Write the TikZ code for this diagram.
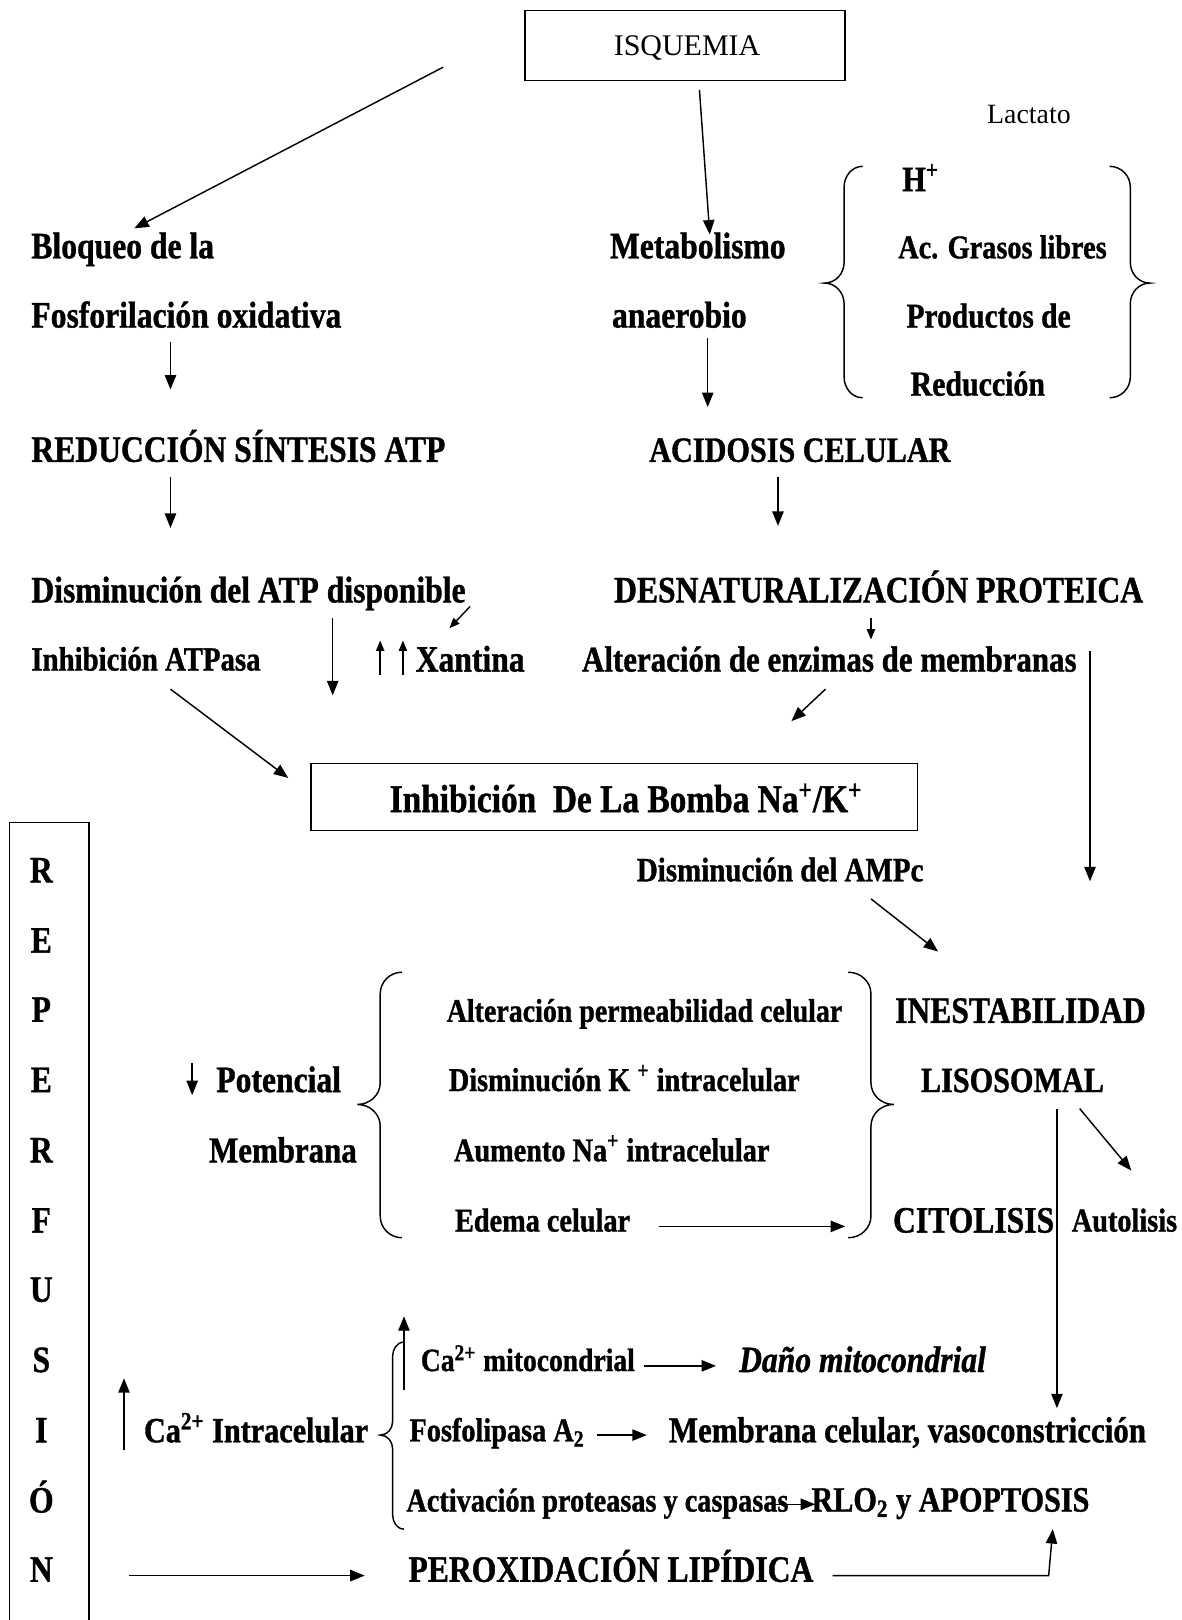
\documentclass[tikz,border=0pt]{standalone}
\usepackage{fontspec}
\setmainfont{Liberation Serif}
\newfontfamily\tbf{Liberation Serif}[FakeStretch=0.85, BoldFeatures={FakeBold=1.0}, BoldItalicFeatures={FakeBold=1.0}]
\usetikzlibrary{arrows.meta}
\begin{document}
\begin{tikzpicture}[x=0.5pt,y=-0.5pt,
  big/.style={font=\tbf\bfseries\fontsize{18}{20}\selectfont, anchor=base west, inner sep=0pt},
  mid/.style={font=\tbf\bfseries\fontsize{17.2}{19}\selectfont, anchor=base west, inner sep=0pt},
  sml/.style={font=\tbf\bfseries\fontsize{16.1}{18}\selectfont, anchor=base west, inner sep=0pt},
  reg/.style={font=\fontsize{13.5}{16}\selectfont, anchor=base west, inner sep=0pt},
  letter/.style={font=\tbf\bfseries\fontsize{18}{20}\selectfont, anchor=base, inner sep=0pt},
  arr/.style={-{Triangle[length=7pt,width=5.5pt]}, line width=0.7pt},
  arrs/.style={-{Triangle[length=5pt,width=4pt]}, line width=0.7pt},
  ln/.style={line width=0.7pt},
  box/.style={draw, line width=0.8pt, inner sep=0pt}]
\useasboundingbox (0,0) rectangle (1144,1568);

% boxes
\node[box, minimum width=155pt, minimum height=34pt] (isq) at (663,44) {};
\node[font=\fontsize{14.5}{16}\selectfont, anchor=base, inner sep=0pt] (isqt) at (665,54) {ISQUEMIA};
\node[box, minimum width=293.5pt, minimum height=32.5pt] (bomba) at (594.5,771.5) {};
\node[font=\tbf\bfseries\fontsize{19}{21}\selectfont, anchor=base, inner sep=0pt] (bombat) at (606,786) {Inhibición\ \ De La Bomba Na\textsuperscript{+}/K\textsuperscript{+}};

% texts
\node[reg] (lact) at (955,120) {Lactato};
\node[big] (bloq) at (30,250) {Bloqueo de la};
\node[big] (fosf) at (30,317) {Fosforilación oxidativa};
\node[big] (meta) at (590,250) {Metabolismo};
\node[big] (anae) at (592,317) {anaerobio};
\node[mid] (hplus) at (873,185) {H\textsuperscript{+}};
\node[mid, font=\tbf\bfseries\fontsize{16.1}{19}\selectfont] (acgr) at (869,250) {Ac. Grasos libres};
\node[mid, font=\tbf\bfseries\fontsize{16.8}{19}\selectfont] (prod) at (877,317) {Productos de};
\node[mid, font=\tbf\bfseries\fontsize{17}{19}\selectfont] (redu) at (881,383) {Reducción};
\node[big] (redatp) at (30,447) {REDUCCIÓN SÍNTESIS ATP};
\node[mid] (acid) at (628,447) {ACIDOSIS CELULAR};
\node[big] (dism) at (30,583) {Disminución del ATP disponible};
\node[big] (desn) at (594,583) {DESNATURALIZACIÓN PROTEICA};
\node[sml, font=\tbf\bfseries\fontsize{16.4}{18}\selectfont] (inhatp) at (30,649) {Inhibición ATPasa};
\node[big] (xant) at (402,650) {Xantina};
\node[mid, font=\tbf\bfseries\fontsize{17.6}{19}\selectfont] (alter) at (563,650) {Alteración de enzimas de membranas};
\node[sml, font=\tbf\bfseries\fontsize{16.5}{18}\selectfont] (ampc) at (616,853) {Disminución del AMPc};
\node[big] (potenc) at (209,1057) {Potencial};
\node[mid, font=\tbf\bfseries\fontsize{17.6}{19}\selectfont] (membr) at (202,1125) {Membrana};
\node[sml, font=\tbf\bfseries\fontsize{15.9}{18}\selectfont] (perm) at (432,989) {Alteración permeabilidad celular};
\node[sml] (dimk) at (434,1056) {Disminución K \textsuperscript{+} intracelular};
\node[sml] (aumna) at (439,1124) {Aumento Na\textsuperscript{+} intracelular};
\node[sml] (edema) at (440,1192) {Edema celular};
\node[big] (inest) at (866,990) {INESTABILIDAD};
\node[mid] (lisos) at (891,1057) {LISOSOMAL};
\node[big] (citol) at (864,1193) {CITOLISIS};
\node[sml] (autol) at (1037,1192) {Autolisis};
\node[mid] (caint) at (139,1396) {Ca\textsuperscript{2+} Intracelular};
\node[sml, font=\tbf\bfseries\fontsize{15.7}{18}\selectfont] (camito) at (407,1327) {Ca\textsuperscript{2+} mitocondrial};
\node[big, font=\tbf\bfseries\itshape\fontsize{18}{20}\selectfont] (dano) at (715,1328) {Daño mitocondrial};
\node[sml] (fosfo) at (396,1395) {Fosfolipasa A\textsubscript{2}};
\node[mid, font=\tbf\bfseries\fontsize{17.6}{19}\selectfont] (membcel) at (647,1396) {Membrana celular, vasoconstricción};
\node[sml] (activ) at (393,1463) {Activación proteasas y caspasas};
\node[mid] (rlo) at (785,1463) {RLO\textsubscript{2} y APOPTOSIS};
\node[big] (perox) at (395,1531) {PEROXIDACIÓN LIPÍDICA};

% REPERFUSION column
\draw[ln] (9,1568) -- (9,796) -- (86,796) -- (86,1568);
\node[letter] (l1) at (40,854) {R};
\node[letter] (l2) at (40,922) {E};
\node[letter] (l3) at (40,989) {P};
\node[letter] (l4) at (40,1057) {E};
\node[letter] (l5) at (40,1125) {R};
\node[letter] (l6) at (40,1193) {F};
\node[letter] (l7) at (40,1260) {U};
\node[letter] (l8) at (40,1328) {S};
\node[letter] (l9) at (40,1396) {I};
\node[letter] (l10) at (40,1464) {Ó};
\node[letter] (l11) at (40,1531) {N};

% braces
\draw[ln] (835,161) to[out=180,in=90] (817,181) -- (817,254) to[out=-90,in=0] (798,274) to[out=0,in=90] (817,294) -- (817,365) to[out=-90,in=180] (835,385);
\draw[ln] (1074,161) to[out=0,in=90] (1094,181) -- (1094,254) to[out=-90,in=180] (1113,274) to[out=180,in=90] (1094,294) -- (1094,365) to[out=-90,in=0] (1074,385);
\draw[ln] (389,941) to[out=180,in=90] (368,962) -- (368,1048) to[out=-90,in=0] (346,1069) to[out=0,in=90] (368,1090) -- (368,1177) to[out=-90,in=180] (389,1198);
\draw[ln] (821,941) to[out=0,in=90] (843,962) -- (843,1048) to[out=-90,in=180] (865,1069) to[out=180,in=90] (843,1090) -- (843,1177) to[out=-90,in=0] (821,1198);
\draw[ln] (391,1299) to[out=180,in=90] (380,1313) -- (380,1376) to[out=-90,in=0] (368,1389) to[out=0,in=90] (380,1402) -- (380,1466) to[out=-90,in=180] (391,1480);

% connector end points
\coordinate (c1a) at (429,65);   \coordinate (c1b) at (130,221);
\coordinate (c2a) at (677,87);   \coordinate (c2b) at (687,227);
\coordinate (c3a) at (165,331);  \coordinate (c3b) at (165,377);
\coordinate (c4a) at (685,327);  \coordinate (c4b) at (685,394);
\coordinate (c5a) at (165,462);  \coordinate (c5b) at (165,511);
\coordinate (c6a) at (753,462);  \coordinate (c6b) at (753,509);
\coordinate (c7a) at (455,587);  \coordinate (c7b) at (435,608);
\coordinate (c8a) at (322,598);  \coordinate (c8b) at (322,673);
\coordinate (x1a) at (368,653);  \coordinate (x1b) at (368,620);
\coordinate (x2a) at (390,653);  \coordinate (x2b) at (390,620);
\coordinate (c9a) at (843,598);  \coordinate (c9b) at (843,619);
\coordinate (c10a) at (1055,630); \coordinate (c10b) at (1055,853);
\coordinate (c11a) at (799,667); \coordinate (c11b) at (766,698);
\coordinate (c12a) at (165,667); \coordinate (c12b) at (279,753);
\coordinate (c13a) at (843,870); \coordinate (c13b) at (908,921);
\coordinate (c14a) at (186,1029); \coordinate (c14b) at (186,1060);
\coordinate (c15a) at (638,1187); \coordinate (c15b) at (818,1187);
\coordinate (c16a) at (1023,1073); \coordinate (c16b) at (1023,1363);
\coordinate (c17a) at (1045,1073); \coordinate (c17b) at (1095,1133);
\coordinate (c18a) at (120,1403); \coordinate (c18b) at (120,1334);
\coordinate (c19a) at (391,1345); \coordinate (c19b) at (391,1274);
\coordinate (c20a) at (623,1322); \coordinate (c20b) at (693,1322);
\coordinate (c21a) at (578,1389); \coordinate (c21b) at (626,1389);
\coordinate (c22a) at (745,1456); \coordinate (c22b) at (789,1456);
\coordinate (c23a) at (125,1525); \coordinate (c23b) at (353,1525);
\coordinate (c24a) at (806,1525); \coordinate (c24m) at (1015,1525); \coordinate (c24b) at (1019,1480);

% connectors
\draw[arr] (c1a) -- (c1b);
\draw[arr] (c2a) -- (c2b);
\draw[arr] (c3a) -- (c3b);
\draw[arr] (c4a) -- (c4b);
\draw[arr] (c5a) -- (c5b);
\draw[arr] (c6a) -- (c6b);
\draw[arrs] (c7a) -- (c7b);
\draw[arr] (c8a) -- (c8b);
\draw[arrs] (x1a) -- (x1b);
\draw[arrs] (x2a) -- (x2b);
\draw[arrs] (c9a) -- (c9b);
\draw[arr] (c10a) -- (c10b);
\draw[arr] (c11a) -- (c11b);
\draw[arr] (c12a) -- (c12b);
\draw[arr] (c13a) -- (c13b);
\draw[arr] (c14a) -- (c14b);
\draw[arr] (c15a) -- (c15b);
\draw[arr] (c16a) -- (c16b);
\draw[arr] (c17a) -- (c17b);
\draw[arr] (c18a) -- (c18b);
\draw[arr] (c19a) -- (c19b);
\draw[arr] (c20a) -- (c20b);
\draw[arr] (c21a) -- (c21b);
\draw[arr] (c22a) -- (c22b);
\draw[arr] (c23a) -- (c23b);
\draw[arr] (c24a) -- (c24m) -- (c24b);
\end{tikzpicture}
\end{document}
